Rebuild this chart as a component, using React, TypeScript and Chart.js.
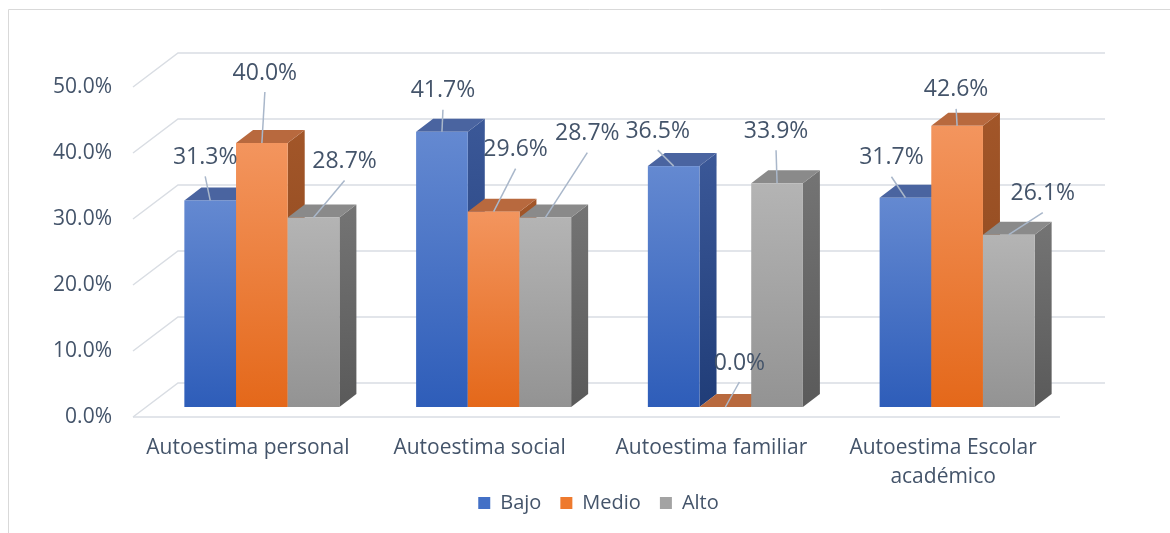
import React, { useEffect, useRef } from 'react';
import { Chart, registerables } from 'chart.js';

Chart.register(...registerables);

// ---- data ----
const categories: (string | string[])[] = [
  'Autoestima personal',
  'Autoestima social',
  'Autoestima familiar',
  ['Autoestima Escolar', 'académico'],
];
const seriesNames = ['Bajo', 'Medio', 'Alto'];
const bajo = [31.3, 41.7, 36.5, 31.7];
const medio = [40.0, 29.6, 0.0, 42.6];
const alto = [28.7, 28.7, 33.9, 26.1];
const yMin = 0;
const yMax = 50;
const yStep = 10;

// ---- style ----
const FONT = "'Open Sans', 'Noto Sans', sans-serif";
const TEXT = '#44546a';
const GRID = '#d9dde3';
const LEADER = '#a9b7ca';
const legendColors = ['#4370c6', '#ee7a2e', '#a3a3a3'];
// [frontTop, frontBottom, topFace, sideTop, sideBottom]
const faceColors = [
  ['#6489d1', '#2e5db9', '#4a64a0', '#3b5898', '#203d78'],
  ['#f3955e', '#e4681a', '#b8693e', '#a25629', '#8a461c'],
  ['#b4b4b4', '#939393', '#8a8a8a', '#747474', '#5a5a5a'],
];
// data-label offsets (px) from each bar's top-front centre, per series / category
const labelOffsets = [
  [[-5, -43], [1, -41], [-16, -35], [-14, -40]],
  [[3, -70], [22, -62], [14, -44], [-1, -36]],
  [[31, -56], [42, -84], [-1, -52], [34, -41]],
];
const DEPTH = { dx: 17, dy: -13 };
const BACK = { dx: 32, dy: -24 };
const FRONT = { dx: -13, dy: 10 };
const LEGEND_SHIFT = { dx: 52, dy: -10 };

const borderPlugin = {
  id: 'outerBorder',
  beforeDraw(chart: any) {
    const ctx = chart.ctx;
    ctx.save();
    ctx.strokeStyle = '#d9d9d9';
    ctx.lineWidth = 1;
    ctx.beginPath();
    ctx.moveTo(8.5, chart.height + 2);
    ctx.lineTo(8.5, 9.5);
    ctx.lineTo(chart.width + 2, 9.5);
    ctx.stroke();
    ctx.restore();
  },
};

const legendShiftPlugin = {
  id: 'legendShift',
  afterLayout(chart: any) {
    const L = chart.legend;
    if (!L) return;
    L.left += LEGEND_SHIFT.dx;
    L.right += LEGEND_SHIFT.dx;
    L.top += LEGEND_SHIFT.dy;
    L.bottom += LEGEND_SHIFT.dy;
  },
};

const threeDPlugin = {
  id: 'threeD',
  beforeDatasetsDraw(chart: any) {
    const ctx = chart.ctx;
    const area = chart.chartArea;
    const yScale = chart.scales.y;
    ctx.save();
    // grid: back wall + side wall diagonals + front floor edge
    ctx.strokeStyle = GRID;
    ctx.lineWidth = 1.5;
    for (let v = yMin; v <= yMax; v += yStep) {
      const py = yScale.getPixelForValue(v);
      ctx.beginPath();
      ctx.moveTo(area.left + FRONT.dx, py + FRONT.dy);
      ctx.lineTo(area.left + BACK.dx, py + BACK.dy);
      ctx.lineTo(area.right + BACK.dx, py + BACK.dy);
      ctx.stroke();
      if (v === yMin) {
        ctx.beginPath();
        ctx.moveTo(area.left + FRONT.dx, py + FRONT.dy);
        ctx.lineTo(area.right + FRONT.dx, py + FRONT.dy);
        ctx.stroke();
      }
    }
    // bars
    const nCat = categories.length;
    const nSer = chart.data.datasets.length;
    for (let i = 0; i < nCat; i++) {
      for (let j = 0; j < nSer; j++) {
        const el = chart.getDatasetMeta(j).data[i];
        const c = faceColors[j];
        const x0 = el.x - el.width / 2;
        const x1 = el.x + el.width / 2;
        const yt = el.y;
        const yb = el.base;
        // side
        const sg = ctx.createLinearGradient(0, yt + DEPTH.dy, 0, yb);
        sg.addColorStop(0, c[3]);
        sg.addColorStop(1, c[4]);
        ctx.fillStyle = sg;
        ctx.beginPath();
        ctx.moveTo(x1, yt);
        ctx.lineTo(x1 + DEPTH.dx, yt + DEPTH.dy);
        ctx.lineTo(x1 + DEPTH.dx, yb + DEPTH.dy);
        ctx.lineTo(x1, yb);
        ctx.closePath();
        ctx.fill();
        // top
        ctx.fillStyle = c[2];
        ctx.beginPath();
        ctx.moveTo(x0, yt);
        ctx.lineTo(x1, yt);
        ctx.lineTo(x1 + DEPTH.dx, yt + DEPTH.dy);
        ctx.lineTo(x0 + DEPTH.dx, yt + DEPTH.dy);
        ctx.closePath();
        ctx.fill();
        // front
        if (yb - yt > 0.5) {
          const fg = ctx.createLinearGradient(0, yt, 0, yb);
          fg.addColorStop(0, c[0]);
          fg.addColorStop(1, c[1]);
          ctx.fillStyle = fg;
          ctx.fillRect(x0, yt, x1 - x0, yb - yt);
        }
      }
    }
    // data labels with leader lines
    ctx.font = `23px ${FONT}`;
    ctx.textAlign = 'center';
    ctx.textBaseline = 'middle';
    for (let j = 0; j < nSer; j++) {
      const ds = chart.data.datasets[j];
      for (let i = 0; i < nCat; i++) {
        const el = chart.getDatasetMeta(j).data[i];
        const [ox, oy] = labelOffsets[j][i];
        const lx = el.x + ox;
        const ly = el.y + oy;
        ctx.strokeStyle = LEADER;
        ctx.lineWidth = 1.5;
        ctx.beginPath();
        ctx.moveTo(lx, ly + 19);
        ctx.lineTo(el.x, el.y);
        ctx.stroke();
        ctx.fillStyle = TEXT;
        ctx.fillText(Number(ds.data[i]).toFixed(1) + '%', lx, ly);
      }
    }
    ctx.restore();
    return false;
  },
};

export default function App() {
  const ref = useRef<HTMLCanvasElement>(null);
  useEffect(() => {
    if (!ref.current) return;
    const series = [bajo, medio, alto];
    const chart = new Chart(ref.current, {
      type: 'bar',
      data: {
        labels: categories,
        datasets: seriesNames.map((name, k) => ({
          label: name,
          data: series[k],
          backgroundColor: legendColors[k],
          borderWidth: 0,
        })),
      },
      options: {
        responsive: false,
        animation: false,
        events: [],
        layout: { padding: { left: 20, right: 97, top: 77, bottom: 0 } },
        datasets: { bar: { categoryPercentage: 0.669, barPercentage: 1 } },
        scales: {
          x: {
            grid: { display: false, drawTicks: false },
            border: { display: false },
            ticks: {
              font: { family: FONT, size: 21, lineHeight: 1.38 },
              color: TEXT,
              padding: 27,
              labelOffset: -14,
              maxRotation: 0,
              autoSkip: false,
            },
            afterFit: (s: any) => {
              s.height = 77;
            },
          },
          y: {
            min: yMin,
            max: yMax,
            grid: { display: false, drawTicks: false },
            border: { display: false },
            ticks: {
              stepSize: yStep,
              callback: (v: any) => Number(v).toFixed(1) + '%',
              font: { family: FONT, size: 21 },
              color: TEXT,
              padding: 34,
              labelOffset: 10,
            },
            afterFit: (s: any) => {
              s.width = 126;
            },
          },
        },
        plugins: {
          legend: {
            position: 'bottom',
            labels: {
              font: { family: FONT, size: 20 },
              color: TEXT,
              boxWidth: 12,
              boxHeight: 12,
              padding: 19,
            },
          },
          tooltip: { enabled: false },
        },
      },
      plugins: [borderPlugin, legendShiftPlugin, threeDPlugin],
    } as any);
    return () => chart.destroy();
  }, []);
  return (
    <div style={{ position: 'absolute', left: 0, top: 0, width: 1170, height: 533, background: '#fff' }}>
      <canvas ref={ref} width={1170} height={533} style={{ display: 'block', width: 1170, height: 533 }} />
    </div>
  );
}
